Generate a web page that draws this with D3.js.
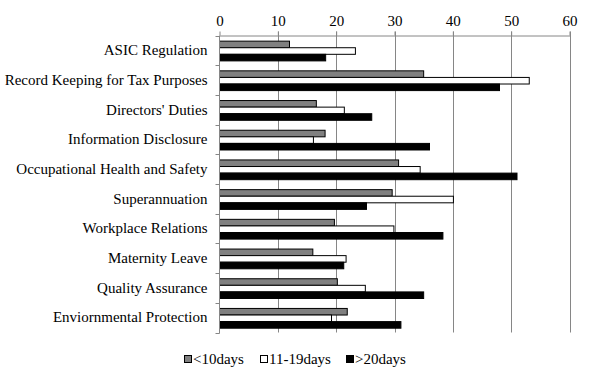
<!DOCTYPE html>
<html>
<head>
<meta charset="utf-8">
<script src="https://cdn.jsdelivr.net/npm/d3@7"></script>
<style>
  body { margin: 0; background: #fff; }
  svg { display: block; font-family: "Liberation Serif", "Times New Roman", serif; }
</style>
</head>
<body>
<svg id="chart" width="591" height="376"></svg>
<script>
const categories = [
  "ASIC Regulation",
  "Record Keeping for Tax Purposes",
  "Directors' Duties",
  "Information Disclosure",
  "Occupational Health and Safety",
  "Superannuation",
  "Workplace Relations",
  "Maternity Leave",
  "Quality Assurance",
  "Enviornmental Protection"
];
const seriesNames = ["<10days", "11-19days", ">20days"];
const lessThan10 = [12, 35, 16.6, 18.1, 30.7, 29.6, 19.7, 16, 20.2, 21.9];
const from11to19 = [23.3, 53.1, 21.4, 16.1, 34.4, 40.1, 29.9, 21.7, 25, 19.2];
const moreThan20 = [18.2, 48, 26.1, 36, 51, 25.2, 38.3, 21.3, 35, 31.1];
const xTicks = [0, 10, 20, 30, 40, 50, 60];
const colors = ["#808080", "#ffffff", "#000000"];

const values = [lessThan10, from11to19, moreThan20];
const svg = d3.select("#chart");

const plotLeft = 219.5, plotRight = 569.5, plotTop = 35.5, plotBottom = 332.5;
const fontSize = "15px";

const x = d3.scaleLinear().domain([0, 60]).range([plotLeft, plotRight]);
const y = d3.scaleBand().domain(categories).range([plotTop, plotBottom]);
const yInner = d3.scaleBand().domain(seriesNames)
  .range([y.bandwidth() * 0.19, y.bandwidth() * 0.855]);

// gridlines
svg.append("g")
  .selectAll("line")
  .data(xTicks.slice(1))
  .join("line")
  .attr("x1", d => Math.round(x(d)) + 0.5)
  .attr("x2", d => Math.round(x(d)) + 0.5)
  .attr("y1", plotTop - 4)
  .attr("y2", plotBottom)
  .attr("stroke", "#868686");

// top axis
const xAxis = svg.append("g")
  .attr("transform", `translate(0,${plotTop})`)
  .call(d3.axisTop(x).tickValues(xTicks).tickSize(4).tickSizeOuter(0).tickPadding(6));
xAxis.select(".domain").attr("stroke", "#868686");
xAxis.selectAll(".tick line").attr("stroke", "#868686");
xAxis.selectAll("text")
  .style("font-family", "'Liberation Serif', serif")
  .style("font-size", fontSize)
  .attr("fill", "#000");

// bars
const rows = categories.map((c, i) => ({ cat: c, vals: seriesNames.map((s, j) => ({ s, j, v: values[j][i] })) }));
svg.append("g")
  .selectAll("g")
  .data(rows)
  .join("g")
  .attr("transform", d => `translate(0,${y(d.cat)})`)
  .selectAll("rect")
  .data(d => d.vals)
  .join("rect")
  .attr("x", x(0))
  .attr("y", d => yInner(d.s))
  .attr("width", d => x(d.v) - x(0))
  .attr("height", yInner.bandwidth())
  .attr("fill", d => colors[d.j])
  .attr("stroke", "#000")
  .attr("stroke-width", 1);

// left axis
const yAxis = svg.append("g")
  .attr("transform", `translate(${plotLeft},0)`)
  .call(d3.axisLeft(y).tickSize(0).tickPadding(12));
yAxis.select(".domain").remove();
yAxis.selectAll("text")
  .style("font-family", "'Liberation Serif', serif")
  .style("font-size", fontSize)
  .attr("fill", "#000");
svg.append("line")
  .attr("x1", plotLeft).attr("x2", plotLeft)
  .attr("y1", plotTop).attr("y2", plotBottom + 1)
  .attr("stroke", "#868686");
svg.append("g")
  .selectAll("line")
  .data(d3.range(categories.length + 1))
  .join("line")
  .attr("x1", plotLeft - 4).attr("x2", plotLeft)
  .attr("y1", i => Math.round(plotTop + i * y.step()) + 0.5)
  .attr("y2", i => Math.round(plotTop + i * y.step()) + 0.5)
  .attr("stroke", "#868686");

// legend
const legendX = [184, 260, 346];
const legend = svg.append("g")
  .selectAll("g")
  .data(seriesNames)
  .join("g")
  .attr("transform", (d, i) => `translate(${legendX[i]},355)`);
legend.append("rect")
  .attr("x", 0.5).attr("y", 0.5)
  .attr("width", 7).attr("height", 7)
  .attr("fill", (d, i) => colors[i])
  .attr("stroke", "#000");
legend.append("text")
  .attr("x", 9)
  .attr("y", 9)
  .style("font-size", fontSize)
  .text(d => d);
</script>
</body>
</html>
